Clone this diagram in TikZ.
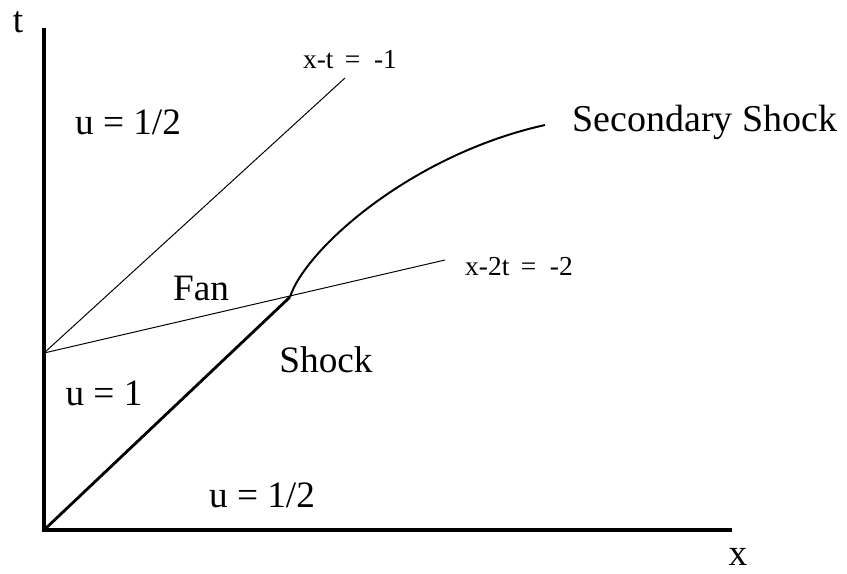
\documentclass[tikz,border=0pt]{standalone}
\usepackage{fontspec}
\setmainfont{Liberation Serif}
\usetikzlibrary{positioning,calc}

\begin{document}
\begin{tikzpicture}[x=0.025cm, y=-0.025cm,
  every node/.style={font=\fontsize{26.5}{30}\selectfont, inner sep=0pt},
  eqlabel/.style={font=\fontsize{19.5}{23}\selectfont},
  axis/.style={line width=2.8pt},
  shockline/.style={line width=2pt},
  charline/.style={line width=0.7pt}]
  \useasboundingbox (0,0) rectangle (847,573);

  \coordinate (O)    at (44,530);
  \coordinate (tend) at (44,30);
  \coordinate (xend) at (730,530);
  \coordinate (A)    at (44,353);
  \coordinate (B)    at (345,78);
  \coordinate (C)    at (445,260);
  \coordinate (P)    at (290,297);
  \coordinate (S)    at (545,125);

  \draw[axis,line cap=rect] (tend) -- (O) -- (xend);
  \node (tlab) at (18,22) {t};
  \node (xlab) at (738,557) {x};

  \draw[charline] (A) -- (B);
  \draw[charline] (A) -- (C);
  \draw[shockline] (O) -- (P);
  \draw[line width=1.4pt] (P) .. controls (305,250) and (410,155) .. (S);

  \node[eqlabel] (lineA) at (350,60) {x-t\,\ = \ -1};
  \node[eqlabel] (lineC) at (519,267) {x-2t\,\ = \ -2};
  \node (uhalftop) at (128,122) {u\ =\ 1/2};
  \node (fan) at (201,288) {Fan};
  \node (shock) at (326,360) {Shock};
  \node (uone) at (104,393) {u\ =\ 1};
  \node (uhalfbot) at (262,495) {u\ =\ 1/2};
  \node[font=\fontsize{27}{31}\selectfont] (second) at (705,122) {Secondary Shock};
\end{tikzpicture}
\end{document}
